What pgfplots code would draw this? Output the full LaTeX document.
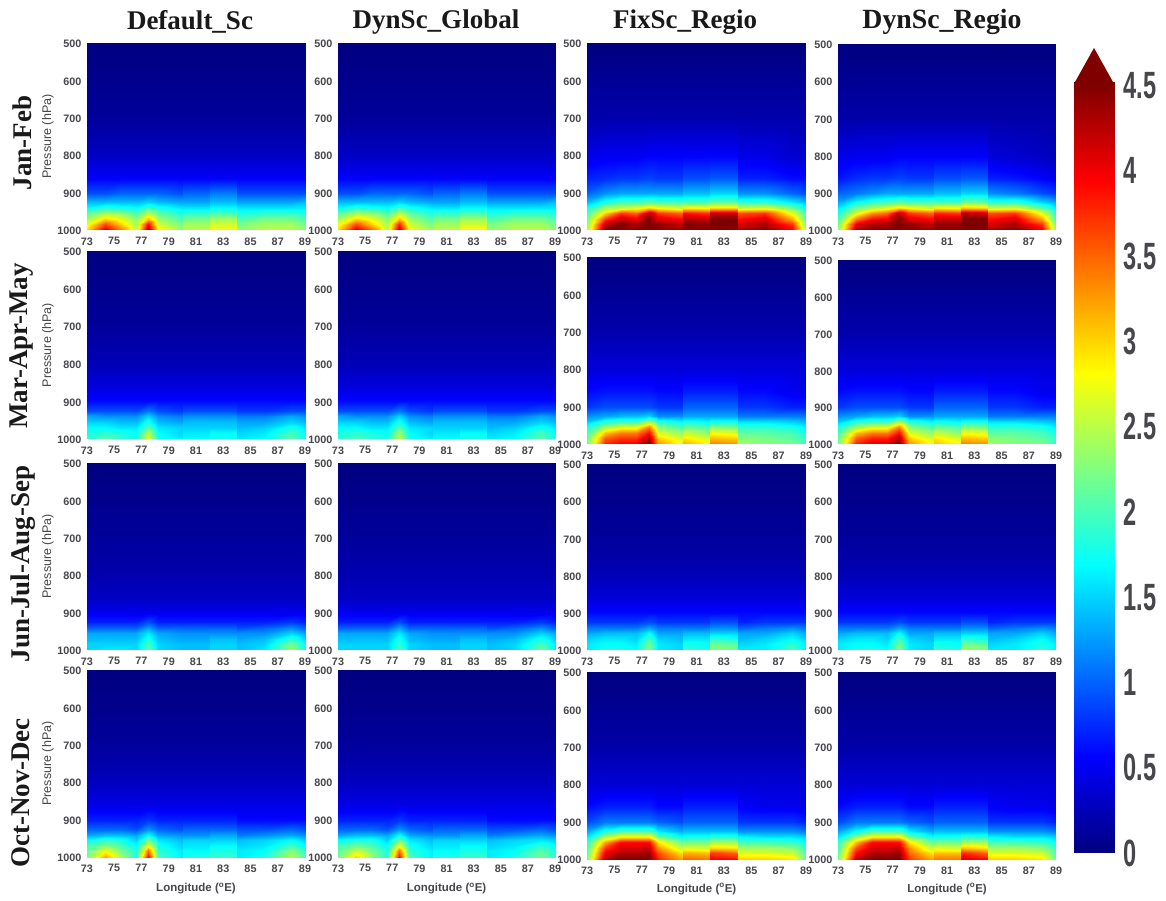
\documentclass[border=0pt]{standalone}
\usepackage{fontspec}
\usepackage{graphicx}
\usepackage{pgfplots}
\pgfplotsset{compat=1.18}
\setmainfont{Liberation Sans}
\newfontfamily\ti{Liberation Serif}
\definecolor{lab}{RGB}{70,70,75}
\newcommand\rep[1]{#1,#1,#1,#1,#1,#1,#1,#1,#1,#1,#1,#1,#1,#1,#1}
\newcommand\sq[1]{\scalebox{0.62}[1]{#1}}
\pgfplotsset{
 colormap={mjet}{rgb(0cm)=(0,0,.5); rgb(1cm)=(0,0,1); rgb(3cm)=(0,1,1); rgb(5cm)=(1,1,0); rgb(7cm)=(1,0,0); rgb(8cm)=(.5,0,0)},
 panel/.style={scale only axis,view={0}{90},colormap name=mjet,point meta min=0,point meta max=4.5,
  xmin=73,xmax=89,ymin=500,ymax=1000,y dir=reverse,
  xtick={73,75,...,89},ytick={500,600,...,1000},
  axis line style={draw=none},major tick length=0pt,
  tick label style={font=\fontsize{10.8}{10.8}\selectfont\bfseries,text=lab,/pgf/number format/assume math mode=true,/pgf/number format/set thousands separator={}},
  xticklabel style={yshift=-4pt},yticklabel style={xshift=-2pt,yshift=-1pt},
  every axis y label/.style={at={(axis description cs:-0.179,0.5)},rotate=90,anchor=center,font=\fontsize{12.5}{12.5}\selectfont,text=lab},
  every axis x label/.style={at={(axis description cs:0.5,-0.16)},anchor=center,font=\fontsize{11.5}{11.5}\selectfont\bfseries,text=lab},
 },
 lowx/.style={every axis x label/.append style={at={(axis description cs:0.5,-0.17)}}}
}
\newcommand\panel[6]{% left, top, width, bottom, extra, data
 \edef\flat{#6}
 \gdef\buf{}
 \foreach \z [count=\i from 0] in \flat {
  \pgfmathtruncatemacro\c{mod(\i,15)}
  \pgfmathtruncatemacro\r{int(\i/15)}
  \pgfmathsetmacro\xx{{73,74.3,75.5,76.6,77.5,78.2,79.99,80.01,81.99,82.01,83.99,84.01,86,88,89}[\c]}
  \pgfmathsetmacro\yy{{1000,985,970,955,940,925,900,860,800,700,500}[\r]}
  \xdef\buf{\buf (\xx,\yy,\z)}
 }
 \pgfmathsetlengthmacro\py{(901-#4)*1pt}
 \pgfmathsetlengthmacro\ph{(#4-#2)*1pt}
 \begin{axis}[panel,anchor=south west,at={(#1pt,\py)},width=#3pt,height=\ph,#5]
 \edef\temp{\noexpand\addplot3[surf,shader=interp,mesh/cols=15,mesh/ordering=x varies] coordinates {\buf};}\temp
 \end{axis}
}
\begin{document}
\begin{tikzpicture}[x=1pt,y=1pt]
\path[use as bounding box,fill=white] (0,0) rectangle (1166,901);
% ---------- row 1
\panel{87}{43}{218}{230}{ylabel={Pressure (hPa)}}{
3.0,4.1,3.4,2.5,4.3,2.9,2.3,2.5,2.5,2.8,2.8,2.3,2.5,2.5,2.3,
2.7,3.6,3.0,2.4,3.9,2.6,2.2,2.4,2.4,2.6,2.6,2.2,2.4,2.4,2.2,
2.4,3.0,2.7,2.3,3.1,2.4,2.0,2.2,2.2,2.4,2.4,2.0,2.2,2.2,2.0,
2.1,2.4,2.3,2.0,2.5,2.1,1.8,1.9,1.9,2.0,2.0,1.8,1.9,1.9,1.8,
1.7,1.9,1.8,1.7,2.0,1.8,1.6,1.6,1.6,1.7,1.7,1.6,1.6,1.6,1.6,
1.4,1.4,1.4,1.4,1.5,1.4,1.3,1.3,1.3,1.4,1.4,1.3,1.3,1.3,1.4,
0.9,0.9,1.0,1.0,1.0,1.0,0.9,1.0,1.0,1.1,1.1,0.9,0.9,0.9,0.9,
\rep{0.55},\rep{0.3},\rep{0.12},\rep{0}}
\panel{338}{43}{217}{230}{}{
3.0,4.1,3.5,2.5,4.2,2.8,2.3,2.5,2.5,2.8,2.8,2.3,2.5,2.5,2.3,
2.7,3.6,3.0,2.4,3.8,2.6,2.2,2.4,2.4,2.6,2.6,2.2,2.4,2.4,2.2,
2.4,3.0,2.7,2.3,3.1,2.4,2.0,2.2,2.2,2.4,2.4,2.0,2.2,2.2,2.0,
2.1,2.4,2.3,2.0,2.5,2.1,1.8,1.9,1.9,2.0,2.0,1.8,1.9,1.9,1.8,
1.7,1.9,1.8,1.7,2.0,1.8,1.6,1.6,1.6,1.7,1.7,1.6,1.6,1.6,1.6,
1.4,1.4,1.4,1.4,1.5,1.4,1.3,1.3,1.3,1.4,1.4,1.3,1.3,1.3,1.4,
0.9,0.9,1.0,1.0,1.0,1.0,0.9,1.0,1.0,1.1,1.1,0.9,0.9,0.9,0.9,
\rep{0.55},\rep{0.3},\rep{0.12},\rep{0}}
\panel{587}{43}{219}{230}{}{
2.4,4.5,4.6,4.5,4.7,4.5,4.4,4.7,4.6,4.8,4.8,4.3,4.5,4.0,2.4,
2.3,4.2,4.5,4.3,4.7,4.4,4.2,4.5,4.4,4.7,4.7,4.1,4.3,3.7,2.2,
2.2,3.7,4.2,4.0,4.5,4.1,3.9,4.3,4.2,4.5,4.5,3.9,4.1,3.2,2.0,
2.0,3.0,3.7,3.5,4.3,3.7,3.5,3.9,3.7,4.2,4.2,3.6,3.7,2.7,1.9,
1.8,2.4,2.6,2.7,3.0,2.8,2.6,2.9,2.8,3.0,3.0,2.6,2.7,2.2,1.7,
1.4,1.8,2.0,2.0,2.1,2.0,2.0,2.0,2.0,2.1,2.1,1.9,1.9,1.6,1.4,
1.0,1.2,1.3,1.3,1.3,1.3,1.3,1.4,1.4,1.5,1.5,1.2,1.2,1.0,0.9,
0.7,0.75,0.8,0.8,0.85,0.8,0.8,0.9,0.9,0.95,0.95,0.7,0.7,0.6,0.6,
0.45,0.5,0.5,0.5,0.55,0.55,0.55,0.55,0.55,0.55,0.55,0.45,0.45,0.35,0.35,
\rep{0.2},\rep{0}}
\panel{838}{44}{218}{230}{}{
2.3,4.3,4.5,4.5,4.7,4.5,4.4,4.6,4.6,4.8,4.8,4.3,4.5,4.0,2.3,
2.2,4.0,4.3,4.3,4.7,4.4,4.2,4.4,4.4,4.7,4.7,4.1,4.3,3.7,2.1,
2.0,3.4,3.9,4.0,4.5,4.1,3.9,4.2,4.2,4.6,4.5,3.9,4.1,3.2,1.9,
1.8,2.7,3.3,3.5,4.3,3.7,3.5,3.8,3.7,4.3,4.2,3.6,3.7,2.7,1.8,
1.6,2.2,2.5,2.7,3.0,2.8,2.6,2.9,2.8,3.1,3.0,2.6,2.7,2.1,1.6,
1.3,1.7,1.9,2.0,2.1,2.0,2.0,2.0,2.0,2.2,2.1,1.9,1.9,1.5,1.3,
1.0,1.1,1.2,1.3,1.3,1.3,1.3,1.4,1.4,1.5,1.5,1.2,1.1,0.9,0.8,
0.65,0.75,0.8,0.8,0.85,0.8,0.8,0.9,0.9,0.95,0.95,0.7,0.65,0.55,0.5,
0.45,0.5,0.5,0.5,0.55,0.55,0.55,0.55,0.55,0.55,0.55,0.4,0.35,0.3,0.25,
\rep{0.18},\rep{0}}
% ---------- row 2
\panel{87}{251}{218}{439}{ylabel={Pressure (hPa)}}{
1.9,2.1,1.9,1.8,2.7,1.8,1.6,1.7,1.7,1.8,1.8,1.6,1.7,2.1,1.8,
1.8,1.9,1.8,1.7,2.5,1.7,1.5,1.6,1.6,1.7,1.7,1.5,1.6,2.0,1.7,
1.7,1.7,1.6,1.6,2.1,1.6,1.5,1.5,1.5,1.5,1.5,1.4,1.5,1.8,1.6,
1.5,1.5,1.4,1.4,1.8,1.4,1.3,1.4,1.4,1.4,1.4,1.3,1.3,1.5,1.4,
1.3,1.2,1.2,1.2,1.5,1.2,1.1,1.2,1.2,1.2,1.2,1.1,1.1,1.3,1.2,
0.9,0.9,0.9,0.9,1.1,0.9,0.8,0.9,0.9,0.9,0.9,0.8,0.8,0.9,0.9,
\rep{0.6},\rep{0.4},\rep{0.25},\rep{0.12},\rep{0}}
\panel{338}{251}{217}{439}{}{
1.9,2.0,1.9,1.8,2.6,1.8,1.6,1.7,1.7,1.8,1.8,1.6,1.7,2.1,1.8,
1.8,1.9,1.8,1.7,2.4,1.7,1.5,1.6,1.6,1.7,1.7,1.5,1.6,2.0,1.7,
1.7,1.7,1.6,1.6,2.1,1.6,1.5,1.5,1.5,1.5,1.5,1.4,1.5,1.8,1.6,
1.5,1.5,1.4,1.4,1.8,1.4,1.3,1.4,1.4,1.4,1.4,1.3,1.3,1.5,1.4,
1.3,1.2,1.2,1.2,1.5,1.2,1.1,1.2,1.2,1.2,1.2,1.1,1.1,1.3,1.2,
0.9,0.9,0.9,0.9,1.1,0.9,0.8,0.9,0.9,0.9,0.9,0.8,0.8,0.9,0.9,
\rep{0.6},\rep{0.4},\rep{0.25},\rep{0.12},\rep{0}}
\panel{587}{257}{219}{444}{}{
2.2,3.8,4.0,4.0,4.5,3.3,2.7,3.2,2.8,3.4,3.3,2.4,2.3,2.2,1.9,
2.1,3.5,3.7,3.7,4.3,3.0,2.6,2.9,2.6,3.1,3.0,2.3,2.2,2.1,1.9,
2.0,3.1,3.4,3.4,3.9,2.7,2.3,2.6,2.3,2.8,2.7,2.1,2.1,2.0,1.8,
1.8,2.4,2.7,2.7,3.4,2.3,2.0,2.2,2.0,2.3,2.2,1.9,1.9,1.8,1.6,
1.5,1.9,2.0,2.0,2.5,1.9,1.7,1.8,1.7,1.8,1.8,1.6,1.6,1.5,1.4,
1.2,1.3,1.4,1.4,1.5,1.2,1.2,1.3,1.3,1.3,1.3,1.1,1.1,1.1,1.1,
0.8,0.9,0.9,0.9,0.9,0.8,0.8,1.0,1.0,1.0,1.0,0.8,0.8,0.7,0.7,
0.6,0.65,0.65,0.65,0.65,0.6,0.6,0.7,0.7,0.7,0.7,0.6,0.6,0.5,0.5,
\rep{0.4},\rep{0.2},\rep{0}}
\panel{838}{260}{218}{444}{}{
2.2,3.8,4.1,4.1,4.5,3.3,2.7,3.1,2.8,3.4,3.3,2.4,2.3,2.2,1.9,
2.1,3.5,3.8,3.8,4.3,3.0,2.6,2.9,2.6,3.1,3.0,2.3,2.2,2.1,1.9,
2.0,3.1,3.4,3.4,3.9,2.7,2.3,2.6,2.3,2.8,2.7,2.1,2.1,2.0,1.8,
1.8,2.4,2.7,2.7,3.4,2.3,2.0,2.2,2.0,2.3,2.2,1.9,1.9,1.8,1.6,
1.5,1.9,2.0,2.0,2.5,1.9,1.7,1.8,1.7,1.8,1.8,1.6,1.6,1.5,1.4,
1.2,1.3,1.4,1.4,1.5,1.2,1.2,1.3,1.3,1.3,1.3,1.1,1.1,1.1,1.1,
0.8,0.9,0.9,0.9,0.9,0.8,0.8,1.0,1.0,1.0,1.0,0.8,0.8,0.7,0.7,
0.6,0.65,0.65,0.65,0.65,0.6,0.6,0.7,0.7,0.7,0.7,0.6,0.6,0.5,0.5,
\rep{0.4},\rep{0.2},\rep{0}}
% ---------- row 3
\panel{87}{463}{218}{650}{ylabel={Pressure (hPa)}}{
1.5,1.6,1.6,1.5,2.1,1.5,1.4,1.4,1.4,1.5,1.5,1.4,1.6,2.4,1.7,
1.5,1.5,1.5,1.5,2.0,1.5,1.4,1.4,1.4,1.5,1.5,1.4,1.5,2.2,1.7,
1.4,1.4,1.4,1.4,1.8,1.4,1.3,1.3,1.3,1.4,1.4,1.3,1.4,1.9,1.5,
1.3,1.3,1.3,1.3,1.6,1.3,1.2,1.2,1.2,1.2,1.2,1.2,1.2,1.5,1.3,
1.0,1.0,1.0,1.0,1.3,1.0,1.0,1.0,1.0,1.0,1.0,0.9,1.0,1.2,1.0,
0.7,0.7,0.7,0.7,0.9,0.7,0.7,0.7,0.7,0.7,0.7,0.7,0.7,0.8,0.7,
\rep{0.5},\rep{0.3},\rep{0.2},\rep{0.12},\rep{0}}
\panel{338}{463}{217}{650}{}{
1.5,1.5,1.5,1.5,2.0,1.5,1.4,1.4,1.4,1.5,1.5,1.4,1.5,2.2,1.6,
1.5,1.5,1.5,1.5,1.9,1.5,1.4,1.4,1.4,1.5,1.5,1.4,1.5,2.0,1.6,
1.4,1.4,1.4,1.4,1.8,1.4,1.3,1.3,1.3,1.4,1.4,1.3,1.4,1.8,1.5,
1.3,1.3,1.3,1.3,1.6,1.3,1.2,1.2,1.2,1.2,1.2,1.2,1.2,1.5,1.3,
1.0,1.0,1.0,1.0,1.3,1.0,1.0,1.0,1.0,1.0,1.0,0.9,1.0,1.2,1.0,
0.7,0.7,0.7,0.7,0.9,0.7,0.7,0.7,0.7,0.7,0.7,0.7,0.7,0.8,0.7,
\rep{0.5},\rep{0.3},\rep{0.22},\rep{0.12},\rep{0}}
\panel{587}{464}{219}{650}{}{
1.6,1.8,1.8,1.7,2.3,1.6,1.5,1.9,1.8,2.3,2.2,1.6,1.6,2.0,1.6,
1.6,1.7,1.7,1.6,2.2,1.6,1.5,1.8,1.7,2.2,2.1,1.5,1.6,1.9,1.6,
1.5,1.6,1.6,1.5,2.0,1.5,1.4,1.6,1.6,1.9,1.8,1.4,1.5,1.7,1.5,
1.3,1.4,1.4,1.4,1.7,1.3,1.3,1.4,1.4,1.5,1.5,1.3,1.3,1.5,1.3,
1.1,1.1,1.1,1.1,1.3,1.1,1.1,1.1,1.1,1.2,1.2,1.0,1.1,1.2,1.1,
0.8,0.8,0.8,0.8,0.9,0.8,0.8,0.8,0.8,0.9,0.9,0.7,0.8,0.8,0.8,
\rep{0.6},\rep{0.4},\rep{0.25},\rep{0.12},\rep{0}}
\panel{838}{464}{218}{650}{}{
1.6,1.8,1.8,1.7,2.3,1.6,1.5,1.9,1.8,2.4,2.3,1.6,1.6,1.9,1.6,
1.6,1.7,1.7,1.6,2.2,1.6,1.5,1.8,1.7,2.2,2.1,1.5,1.6,1.8,1.6,
1.5,1.6,1.6,1.5,2.0,1.5,1.4,1.6,1.6,1.9,1.8,1.4,1.5,1.7,1.5,
1.3,1.4,1.4,1.4,1.7,1.3,1.3,1.4,1.4,1.5,1.5,1.3,1.3,1.5,1.3,
1.1,1.1,1.1,1.1,1.3,1.1,1.1,1.1,1.1,1.2,1.2,1.0,1.1,1.2,1.1,
0.8,0.8,0.8,0.8,0.9,0.8,0.8,0.8,0.8,0.9,0.9,0.7,0.8,0.8,0.8,
\rep{0.6},\rep{0.4},\rep{0.25},\rep{0.12},\rep{0}}
% ---------- row 4
\panel{87}{670}{218}{857}{lowx,ylabel={Pressure (hPa)},xlabel={Longitude (\textsuperscript{o}E)}}{
2.2,3.2,2.4,1.8,3.9,2.0,1.6,1.8,1.8,1.9,1.9,1.6,1.8,2.5,2.0,
2.1,2.8,2.2,1.8,3.5,1.9,1.6,1.7,1.7,1.8,1.8,1.6,1.7,2.3,1.9,
2.0,2.3,2.0,1.7,2.8,1.8,1.5,1.6,1.6,1.7,1.7,1.5,1.6,2.0,1.7,
1.7,1.9,1.8,1.5,2.2,1.6,1.4,1.5,1.5,1.5,1.5,1.4,1.5,1.7,1.5,
1.3,1.4,1.4,1.3,1.7,1.3,1.2,1.2,1.2,1.3,1.3,1.1,1.2,1.3,1.2,
1.0,1.0,1.0,0.9,1.2,1.0,0.9,1.0,1.0,1.0,1.0,0.9,0.9,1.0,0.9,
0.7,0.7,0.7,0.7,0.8,0.7,0.7,0.7,0.7,0.7,0.7,0.6,0.6,0.6,0.6,
\rep{0.45},\rep{0.28},\rep{0.12},\rep{0}}
\panel{338}{670}{217}{857}{lowx,xlabel={Longitude (\textsuperscript{o}E)}}{
2.2,3.0,2.3,1.8,3.9,2.0,1.6,1.8,1.8,1.9,1.9,1.6,1.8,2.2,1.9,
2.1,2.6,2.2,1.8,3.5,1.9,1.6,1.7,1.7,1.8,1.8,1.6,1.7,2.1,1.8,
2.0,2.2,2.0,1.7,2.8,1.8,1.5,1.6,1.6,1.7,1.7,1.5,1.6,1.9,1.7,
1.7,1.8,1.8,1.5,2.2,1.6,1.4,1.5,1.5,1.5,1.5,1.4,1.5,1.6,1.5,
1.3,1.4,1.4,1.3,1.7,1.3,1.2,1.2,1.2,1.3,1.3,1.1,1.2,1.3,1.2,
1.0,1.0,1.0,0.9,1.2,1.0,0.9,1.0,1.0,1.0,1.0,0.9,0.9,1.0,0.9,
0.7,0.7,0.7,0.7,0.8,0.7,0.7,0.7,0.7,0.7,0.7,0.6,0.6,0.6,0.6,
\rep{0.45},\rep{0.28},\rep{0.12},\rep{0}}
\panel{587}{672}{219}{859}{xlabel={Longitude (\textsuperscript{o}E)}}{
2.2,4.3,4.5,4.5,4.6,3.8,3.2,3.5,3.4,4.0,3.9,3.0,3.0,2.9,2.1,
2.1,4.0,4.3,4.3,4.4,3.6,2.9,3.2,3.1,3.7,3.5,2.7,2.7,2.6,2.0,
2.0,3.7,4.1,4.1,4.2,3.3,2.5,2.7,2.6,3.0,2.9,2.4,2.4,2.3,1.9,
1.9,3.2,3.9,3.9,3.9,2.9,2.1,2.2,2.2,2.4,2.4,2.0,2.0,1.9,1.7,
1.6,2.5,2.9,2.9,2.9,2.2,1.7,1.8,1.8,1.9,1.9,1.7,1.6,1.6,1.5,
1.3,1.8,2.0,2.0,2.0,1.6,1.3,1.4,1.4,1.4,1.4,1.2,1.2,1.2,1.1,
0.9,1.1,1.1,1.1,1.1,1.0,0.9,1.0,1.0,1.0,1.0,0.8,0.8,0.8,0.7,
0.6,0.7,0.7,0.7,0.7,0.6,0.6,0.7,0.7,0.7,0.7,0.55,0.5,0.5,0.45,
\rep{0.38},\rep{0.18},\rep{0}}
\panel{838}{672}{218}{859}{xlabel={Longitude (\textsuperscript{o}E)}}{
2.2,4.2,4.5,4.5,4.6,3.7,3.2,3.4,3.4,4.1,3.9,3.0,3.0,2.9,2.1,
2.1,3.9,4.3,4.3,4.4,3.5,2.9,3.1,3.1,3.8,3.5,2.7,2.7,2.6,2.0,
2.0,3.6,4.1,4.1,4.2,3.3,2.5,2.7,2.6,3.1,2.9,2.4,2.4,2.3,1.9,
1.9,3.1,3.9,3.9,3.9,2.9,2.1,2.2,2.2,2.4,2.4,2.0,2.0,1.9,1.7,
1.6,2.4,2.9,2.9,2.9,2.2,1.7,1.8,1.8,1.9,1.9,1.7,1.6,1.6,1.5,
1.3,1.7,2.0,2.0,2.0,1.6,1.3,1.4,1.4,1.4,1.4,1.2,1.2,1.2,1.1,
0.9,1.1,1.1,1.1,1.1,1.0,0.9,1.0,1.0,1.0,1.0,0.8,0.8,0.8,0.7,
0.6,0.7,0.7,0.7,0.7,0.6,0.6,0.7,0.7,0.7,0.7,0.55,0.5,0.5,0.45,
\rep{0.38},\rep{0.18},\rep{0}}
% ---------- colour bar
\begin{axis}[scale only axis,anchor=south west,at={(1074pt,48pt)},width=40pt,height=805pt,view={0}{90},
 colormap name=mjet,point meta min=0,point meta max=4.5,clip=false,
 xmin=0,xmax=1,ymin=0,ymax=4.72,axis line style={draw=none},major tick length=0pt,
 xtick=\empty,ytick={0,0.5,...,4.5},ytick pos=right,yticklabel pos=right,
 yticklabels={\sq{0},\sq{0.5},\sq{1},\sq{1.5},\sq{2},\sq{2.5},\sq{3},\sq{3.5},\sq{4},\sq{4.5}},
 yticklabel style={font=\fontsize{38}{38}\selectfont\bfseries,text=lab,anchor=west,xshift=6pt}]
\addplot3[surf,shader=interp,mesh/cols=2,mesh/ordering=x varies] coordinates {
(0,0,0)(1,0,0)(0,0.5,0.5)(1,0.5,0.5)(0,1,1)(1,1,1)(0,1.5,1.5)(1,1.5,1.5)(0,2,2)(1,2,2)
(0,2.5,2.5)(1,2.5,2.5)(0,3,3)(1,3,3)(0,3.5,3.5)(1,3.5,3.5)(0,4,4)(1,4,4)(0,4.5,4.5)(1,4.5,4.5)(0,4.52,4.5)(1,4.52,4.5)};
\addplot3[fill={rgb,1:red,0.5;green,0;blue,0},draw=none] coordinates {(0,4.51,0)(0.5,4.72,0)(1,4.51,0)} \closedcycle;
\end{axis}
% ---------- titles
\begin{scope}[every node/.style={font=\ti\fontsize{27}{27}\selectfont\bfseries,text=black!90}]
\node at (190,879) {Default\_Sc};
\node at (436,879) {DynSc\_Global};
\node at (685,879) {FixSc\_Regio};
\node at (942,879) {\fontsize{27.8}{28}\selectfont DynSc\_Regio};
\node[rotate=90] at (22,758) {Jan-Feb};
\node[rotate=90] at (22,555) {Mar-Apr-May};
\node[rotate=90] at (23,337) {Jun-Jul-Aug-Sep};
\node[rotate=90] at (21,108) {Oct-Nov-Dec};
\end{scope}
\end{tikzpicture}
\end{document}
